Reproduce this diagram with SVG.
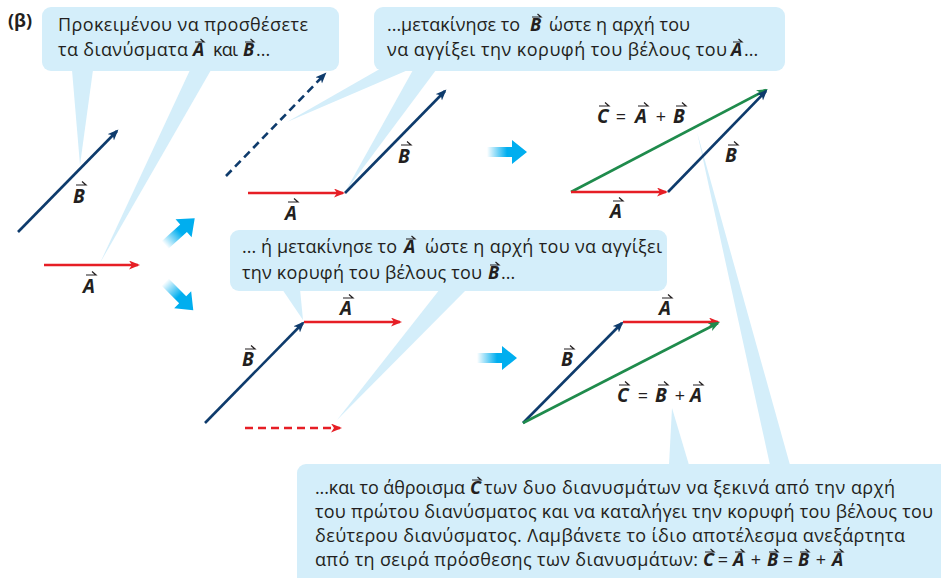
<svg xmlns="http://www.w3.org/2000/svg" width="941" height="578" viewBox="0 0 941 578">
<style>
.bub{fill:#d4eefa}
.t{font-family:"Open Sans","Noto Sans","DejaVu Sans",sans-serif;font-size:18px;fill:#231f20}
.vi{font-family:"Open Sans","Noto Sans","DejaVu Sans",sans-serif;font-size:18px;font-weight:bold;font-style:italic;fill:#231f20}
.v{font-family:"Open Sans","Noto Sans","DejaVu Sans",sans-serif;font-weight:bold;font-style:italic;font-size:19px;fill:#231f20}
.op{font-family:"Open Sans","Noto Sans","DejaVu Sans",sans-serif;font-size:18px;fill:#231f20;text-anchor:middle}
.nv{stroke:#0e3b6c;stroke-width:2.6;fill:none;marker-end:url(#mN)}
.rd{stroke:#e61e25;stroke-width:2.6;fill:none;marker-end:url(#mR)}
.gr{stroke:#1f8b4c;stroke-width:2.6;fill:none;marker-end:url(#mG)}
.dash{stroke-dasharray:8 5}
.hp{stroke:#231f20;stroke-width:1.2;fill:none}
.cy{fill:url(#gCy)}
</style>
<defs>
<marker id="mN" markerUnits="userSpaceOnUse" markerWidth="13" markerHeight="10" refX="9" refY="4.5" orient="auto"><path d="M0,0 L11,4.5 L0,9 L3,4.5 Z" fill="#0e3b6c"/></marker>
<marker id="mR" markerUnits="userSpaceOnUse" markerWidth="13" markerHeight="10" refX="9" refY="4.5" orient="auto"><path d="M0,0 L11,4.5 L0,9 L3,4.5 Z" fill="#e61e25"/></marker>
<marker id="mG" markerUnits="userSpaceOnUse" markerWidth="13" markerHeight="10" refX="9" refY="4.5" orient="auto"><path d="M0,0 L11,4.5 L0,9 L3,4.5 Z" fill="#1f8b4c"/></marker>
<path id="hp" class="hp" d="M0,0 h10 l-4,-3.5"/>
<path id="hps" class="hp" d="M0,0 h9 l-3.5,-3"/>
<linearGradient id="gCy" x1="0" y1="0" x2="1" y2="0">
<stop offset="0" stop-color="#00aeef" stop-opacity="0"/>
<stop offset="0.5" stop-color="#00aeef" stop-opacity="1"/>
<stop offset="1" stop-color="#00aeef"/>
</linearGradient>
<path id="cyA" d="M0,-5 H25 V-12 L40,0 L25,12 V5 H0 Z"/>
</defs>

<text x="8" y="27" font-family="'Open Sans',sans-serif" font-weight="bold" font-size="18" fill="#231f20">(β)</text>

<!-- bubbles -->
<g id="bubble1">
<polygon class="bub" points="72,70 93,70 80,165"/>
<polygon class="bub" points="190,70 211,70 100,263"/>
<rect class="bub" x="42" y="7" width="297" height="64" rx="9"/>
<text class="t" x="58" y="31" textLength="250">Προκειμένου να προσθέσετε</text>
<text class="t" x="58" y="56" textLength="130">τα διανύσματα</text>
<text class="vi" x="193" y="56">A</text>
<text class="t" x="213" y="56" textLength="25">και</text>
<text class="vi" x="243" y="56">B</text>
<text class="t" x="256" y="56">...</text>
<use href="#hps" x="195" y="42"/>
<use href="#hps" x="245" y="42"/>
</g>

<g id="bubble2">
<polygon class="bub" points="378,70 408,70 287,122"/>
<polygon class="bub" points="413,70 436,70 345,192"/>
<rect class="bub" x="374" y="7" width="411" height="64" rx="9"/>
<text class="t" x="387" y="31" textLength="133">...μετακίνησε το</text>
<text class="vi" x="530" y="31">B</text>
<text class="t" x="549" y="31" textLength="141">ώστε η αρχή του</text>
<text class="t" x="387" y="56" textLength="340">να αγγίξει την κορυφή του βέλους του</text>
<text class="vi" x="731" y="56">A</text>
<text class="t" x="744" y="56">...</text>
<use href="#hps" x="532" y="17"/>
<use href="#hps" x="733" y="42"/>
</g>

<g id="bubble3">
<polygon class="bub" points="282,289 300,289 303,320"/>
<polygon class="bub" points="440,289 467,289 337,420"/>
<rect class="bub" x="230" y="230" width="437" height="61" rx="9"/>
<text class="t" x="242" y="253" textLength="155">... ή μετακίνησε το</text>
<text class="vi" x="404" y="253">A</text>
<text class="t" x="425" y="253" textLength="237">ώστε η αρχή του να αγγίξει</text>
<text class="t" x="242" y="279" textLength="240">την κορυφή του βέλους του</text>
<text class="vi" x="488" y="279">B</text>
<text class="t" x="501" y="279">...</text>
<use href="#hps" x="406" y="239"/>
<use href="#hps" x="490" y="265"/>
</g>

<g id="bubble4">
<polygon class="bub" points="669,465 689,465 672,408"/>
<polygon class="bub" points="770,465 790,465 697,132"/>
<rect class="bub" x="297" y="464" width="660" height="130" rx="9"/>
<text class="t" x="315" y="494" textLength="150">...και το άθροισμα</text>
<text class="vi" x="470" y="494">C</text>
<text class="t" x="484" y="494" textLength="411">των δυο διανυσμάτων να ξεκινά από την αρχή</text>
<text class="t" x="315" y="518" textLength="618">του πρώτου διανύσματος και να καταλήγει την κορυφή του βέλους του</text>
<text class="t" x="315" y="542" textLength="590">δεύτερου διανύσματος. Λαμβάνετε το ίδιο αποτέλεσμα ανεξάρτητα</text>
<text class="t" x="315" y="566" textLength="383">από τη σειρά πρόσθεσης των διανυσμάτων:</text>
<text class="vi" x="703" y="566">C</text>
<text class="op" x="723" y="566">=</text>
<text class="vi" x="733" y="566">A</text>
<text class="op" x="756" y="566">+</text>
<text class="vi" x="767" y="566">B</text>
<text class="op" x="788" y="566">=</text>
<text class="vi" x="798" y="566">B</text>
<text class="op" x="821" y="566">+</text>
<text class="vi" x="832" y="566">A</text>
<use href="#hps" x="472" y="480"/>
<use href="#hps" x="705" y="552"/>
<use href="#hps" x="735" y="552"/>
<use href="#hps" x="769" y="552"/>
<use href="#hps" x="800" y="552"/>
<use href="#hps" x="834" y="552"/>
</g>

<!-- transition arrows -->
<g id="cyan-arrows">
<use href="#cyA" class="cy" transform="translate(165,245) rotate(-42)"/>
<use href="#cyA" class="cy" transform="translate(165,282) rotate(45)"/>
<use href="#cyA" class="cy" transform="translate(487,152)"/>
<use href="#cyA" class="cy" transform="translate(477,358)"/>
</g>

<!-- connectors (vectors) -->
<g id="vectors">
<line class="nv" x1="18" y1="232" x2="117" y2="131"/>
<line class="rd" x1="44" y1="265" x2="138" y2="265"/>
<line class="nv dash" x1="226" y1="176" x2="325" y2="74"/>
<line class="rd" x1="248" y1="193" x2="343" y2="193"/>
<line class="nv" x1="345" y1="193" x2="445" y2="91"/>
<line class="gr" x1="571" y1="192" x2="766" y2="90"/>
<line class="rd" x1="571" y1="192" x2="666" y2="192"/>
<line class="nv" x1="668" y1="192" x2="766" y2="91"/>
<line class="nv" x1="205" y1="423" x2="303" y2="323"/>
<line class="rd" x1="304" y1="322" x2="400" y2="322"/>
<line class="rd dash" x1="245" y1="428" x2="340" y2="428"/>
<line class="nv" x1="523" y1="423" x2="622" y2="323"/>
<line class="rd" x1="623" y1="322" x2="718" y2="322"/>
<line class="gr" x1="523" y1="423" x2="718" y2="323"/>
</g>

<!-- vector labels -->
<g id="labels">
<text class="v" x="73" y="203">B</text><use href="#hp" x="76" y="185"/>
<text class="v" x="83" y="293">A</text><use href="#hp" x="86" y="275"/>
<text class="v" x="285" y="220">A</text><use href="#hp" x="288" y="202"/>
<text class="v" x="398" y="163">B</text><use href="#hp" x="401" y="145"/>
<text class="v" x="597" y="123">C</text><use href="#hp" x="599" y="106"/>
<text class="op" x="621" y="123">=</text>
<text class="v" x="635" y="123">A</text><use href="#hp" x="638" y="106"/>
<text class="op" x="661" y="123">+</text>
<text class="v" x="673" y="123">B</text><use href="#hp" x="676" y="106"/>
<text class="v" x="610" y="218">A</text><use href="#hp" x="613" y="201"/>
<text class="v" x="725" y="162">B</text><use href="#hp" x="728" y="145"/>
<text class="v" x="340" y="315">A</text><use href="#hp" x="343" y="298"/>
<text class="v" x="242" y="366">B</text><use href="#hp" x="245" y="349"/>
<text class="v" x="659" y="315">A</text><use href="#hp" x="662" y="298"/>
<text class="v" x="561" y="366">B</text><use href="#hp" x="564" y="349"/>
<text class="v" x="617" y="402">C</text><use href="#hp" x="619" y="385"/>
<text class="op" x="643" y="402">=</text>
<text class="v" x="655" y="402">B</text><use href="#hp" x="658" y="385"/>
<text class="op" x="680" y="402">+</text>
<text class="v" x="690" y="402">A</text><use href="#hp" x="693" y="385"/>
</g>
</svg>
